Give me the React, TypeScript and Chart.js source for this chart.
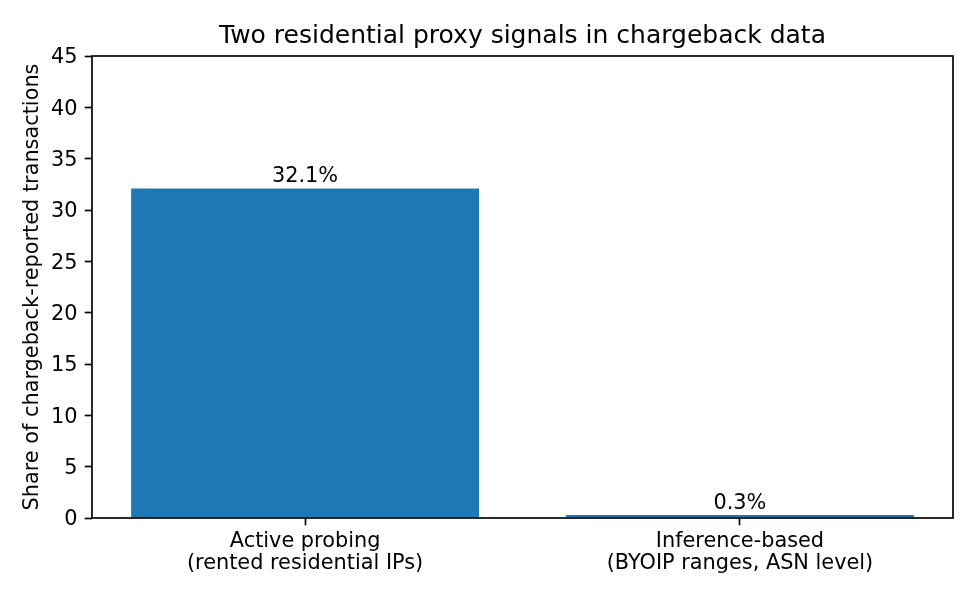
import React, { useEffect, useRef } from 'react';
import { Chart, registerables } from 'chart.js';

Chart.register(...registerables);

// categories shown under each bar (two-line labels)
const categories = [
  ['Active probing', '(rented residential IPs)'],
  ['Inference-based', '(BYOIP ranges, ASN level)'],
];
// share of chargeback-reported transactions, in percent
const shares = [32.1, 0.3];
const barLabels = ['32.1%', '0.3%'];
const yTicks = [0, 5, 10, 15, 20, 25, 30, 35, 40, 45];
const chartTitle = 'Two residential proxy signals in chargeback data';

const FONT = 'DejaVu Sans';
const PT = 150 / 72; // matplotlib points -> px at 150 dpi

// spines on all four sides, drawn over the bars like matplotlib does
const framePlugin = {
  id: 'frame',
  afterDatasetsDraw(chart) {
    const { ctx, chartArea } = chart;
    ctx.save();
    ctx.strokeStyle = '#000';
    ctx.lineWidth = 0.8 * PT;
    ctx.strokeRect(chartArea.left, chartArea.top, chartArea.right - chartArea.left, chartArea.bottom - chartArea.top);
    ctx.restore();
  },
};

// value labels above bars + title centred over the axes
const textPlugin = {
  id: 'texts',
  afterDraw(chart) {
    const { ctx, chartArea } = chart;
    const meta = chart.getDatasetMeta(0);
    ctx.save();
    ctx.fillStyle = '#000';
    ctx.textAlign = 'center';
    ctx.textBaseline = 'alphabetic';
    ctx.font = `${10 * PT}px "${FONT}"`;
    meta.data.forEach((bar, i) => {
      ctx.fillText(barLabels[i], bar.x, bar.y - 6.4);
    });
    ctx.font = `${12 * PT}px "${FONT}"`;
    ctx.fillText(chartTitle, (chartArea.left + chartArea.right) / 2, 43.3);
    ctx.restore();
  },
};

const App = () => {
  const canvasRef = useRef(null);

  useEffect(() => {
    if (!canvasRef.current) return;
    Chart.defaults.font.family = FONT;
    Chart.defaults.color = '#000';

    const chart = new Chart(canvasRef.current, {
      type: 'bar',
      data: {
        datasets: [
          {
            data: shares.map((v, i) => ({ x: i, y: v })),
            backgroundColor: '#1f77b4',
            borderWidth: 0,
            barPercentage: 0.8,
            categoryPercentage: 1.0,
          },
        ],
      },
      options: {
        animation: false,
        responsive: true,
        maintainAspectRatio: false,
        events: [],
        layout: { padding: { left: 0, right: 22, top: 56, bottom: 0 } },
        plugins: {
          legend: { display: false },
          tooltip: { enabled: false },
          title: { display: false },
        },
        scales: {
          x: {
            type: 'linear',
            min: -0.49,
            max: 1.49,
            offset: false,
            afterBuildTicks: (axis) => {
              axis.ticks = categories.map((_, i) => ({ value: i }));
            },
            afterFit: (axis) => {
              axis.height = 82;
            },
            ticks: {
              callback: (v) => categories[v] ?? '',
              font: { family: FONT, size: 10 * PT, lineHeight: 1.056 },
              color: '#000',
              padding: 5,
              maxRotation: 0,
              autoSkip: false,
            },
            grid: {
              offset: false,
              drawOnChartArea: false,
              drawTicks: true,
              tickLength: 3.5 * PT,
              tickWidth: 0.8 * PT,
              tickColor: '#000',
            },
            border: { display: false },
          },
          y: {
            min: 0,
            max: 45,
            afterBuildTicks: (axis) => {
              axis.ticks = yTicks.map((v) => ({ value: v }));
            },
            afterFit: (axis) => {
              axis.width = 92;
            },
            ticks: {
              font: { family: FONT, size: 10 * PT },
              color: '#000',
              padding: 3.5 * PT,
              labelOffset: 2,
            },
            grid: {
              drawOnChartArea: false,
              drawTicks: true,
              tickLength: 3.5 * PT,
              tickWidth: 0.8 * PT,
              tickColor: '#000',
            },
            border: { display: false },
            title: {
              display: true,
              text: 'Share of chargeback-reported transactions',
              color: '#000',
              font: { family: FONT, size: 10 * PT, lineHeight: 1.2 },
              padding: { top: 20, bottom: 0 },
            },
          },
        },
      },
      plugins: [framePlugin, textPlugin],
    });

    return () => {
      chart.destroy();
    };
  }, []);

  return (
    <div style={{ position: 'absolute', left: 0, top: 0, width: 975, height: 600, background: '#fff' }}>
      <canvas ref={canvasRef} />
    </div>
  );
};

export default App;
